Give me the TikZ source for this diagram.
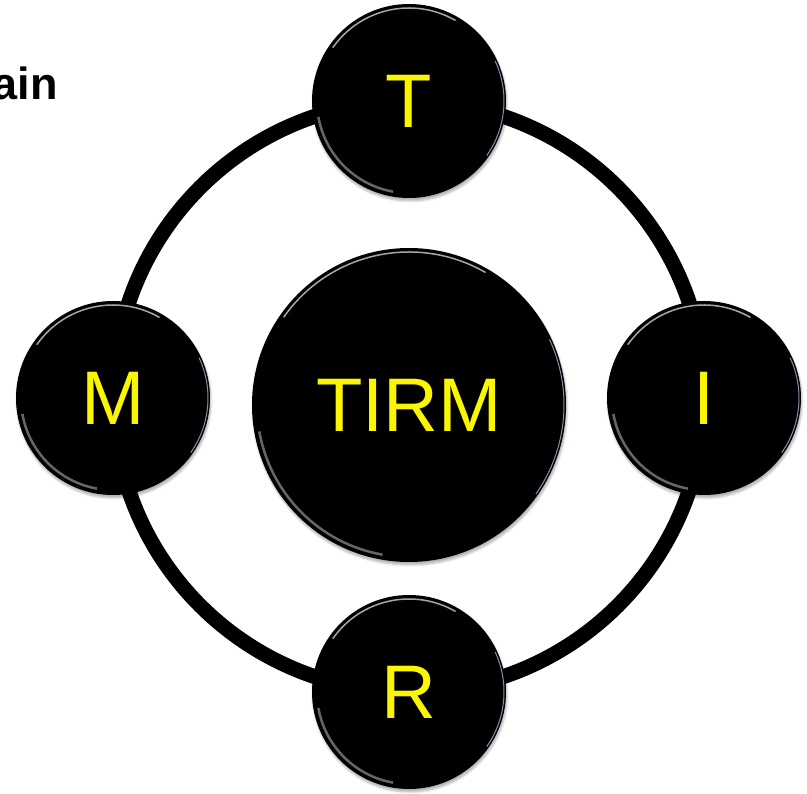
\documentclass[tikz,border=0pt]{standalone}
\usepackage{fontspec}
\setmainfont{Liberation Sans}
\usepackage{xcolor}
\usetikzlibrary{positioning,calc,backgrounds,shadows.blur}

\definecolor{tirmyellow}{RGB}{250,245,0}

\begin{document}
\begin{tikzpicture}[
    x=1pt,y=-1pt,
    disc/.style={circle,fill=black,inner sep=0pt,text=tirmyellow,
        font=\fontsize{76}{80}\selectfont,
        blur shadow={shadow xshift=1pt,shadow yshift=-3pt,shadow opacity=30,shadow blur steps=5},
        path picture={
            \draw[black!60,line width=2.5pt]
                ($(path picture bounding box.center)+(100:#1-5)$) arc[start angle=100,end angle=170,radius=#1-5];
            \draw[black!35,line width=1.5pt]
                ($(path picture bounding box.center)+(215:#1-4)$) arc[start angle=215,end angle=300,radius=#1-4];
            \draw[blue!25!black!45,line width=1pt]
                ($(path picture bounding box.center)+(-25:#1-2)$) arc[start angle=-25,end angle=35,radius=#1-2];
        },
        minimum size=2*#1},
    ring/.style={line width=15pt,black}
]
\useasboundingbox (0,0) rectangle (807,794);

\node[font=\bfseries\fontsize{45}{48}\selectfont,anchor=base east,inner sep=0pt] (title) at (58,100) {ain};

% outer ring of four letters
\node[disc=97] (t) at (409,101) {T};
\node[disc=97] (i) at (704,398) {I};
\node[disc=97] (r) at (409,692) {R};
\node[disc=97] (m) at (113,398) {M};

\node[disc=157] (tirm) at (409,405) {TIRM};

\begin{scope}[on background layer]
\draw[ring] (t.center) arc[start angle=270,end angle=630,radius=295.5];
\end{scope}

\end{tikzpicture}
\end{document}
